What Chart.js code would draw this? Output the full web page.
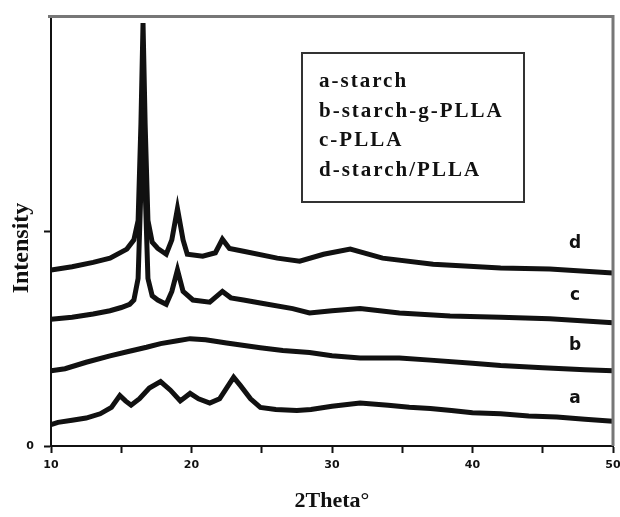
<!DOCTYPE html>
<html>
<head>
<meta charset="utf-8">
<script src="https://cdn.jsdelivr.net/npm/chart.js@4"></script>
<style>
  html, body { margin: 0; padding: 0; background: #fff; }
  #wrap { width: 620px; height: 517px; position: relative; }
</style>
</head>
<body>
<div id="wrap"><canvas id="c" width="620" height="517"></canvas></div>
<script>
// ---- data (2Theta in degrees, intensity in arbitrary units, curves offset) ----
const thetaA = [10.0, 10.5, 11.5, 12.5, 13.5, 14.3, 14.9, 15.3, 15.7, 16.3, 17.0, 17.8, 18.5, 19.2, 19.9, 20.5, 21.3, 22.0, 22.6, 23.0, 23.5, 24.2, 24.9, 26.0, 27.5, 28.5, 30.0, 32.0, 34.0, 35.5, 37.0, 38.5, 40.0, 42.0, 44.0, 46.0, 48.0, 50.0];
const intensityA = [0.10, 0.11, 0.12, 0.13, 0.15, 0.18, 0.235, 0.21, 0.19, 0.22, 0.27, 0.30, 0.26, 0.21, 0.245, 0.22, 0.20, 0.22, 0.28, 0.32, 0.28, 0.22, 0.18, 0.17, 0.165, 0.17, 0.185, 0.20, 0.19, 0.18, 0.175, 0.165, 0.155, 0.15, 0.14, 0.135, 0.125, 0.115];

const thetaB = [10.0, 11.0, 12.5, 14.2, 15.5, 16.8, 17.8, 19.0, 19.9, 21.0, 22.5, 24.9, 26.5, 28.4, 30.0, 32.0, 34.8, 37.0, 40.0, 42.0, 45.0, 48.0, 50.0];
const intensityB = [0.35, 0.36, 0.39, 0.42, 0.44, 0.46, 0.477, 0.49, 0.50, 0.495, 0.48, 0.458, 0.445, 0.435, 0.42, 0.41, 0.41, 0.40, 0.385, 0.375, 0.365, 0.355, 0.35];

const thetaC = [10.0, 11.5, 13.0, 14.2, 15.0, 15.6, 15.9, 16.2, 16.4, 16.55, 16.7, 16.9, 17.2, 17.6, 18.2, 18.6, 19.0, 19.4, 20.1, 21.3, 22.2, 22.8, 23.7, 25.0, 27.2, 28.4, 30.0, 32.0, 34.8, 38.4, 42.0, 45.5, 50.0];
const intensityC = [0.59, 0.60, 0.615, 0.63, 0.645, 0.66, 0.68, 0.78, 1.20, 1.57, 1.20, 0.78, 0.70, 0.68, 0.66, 0.72, 0.82, 0.72, 0.68, 0.67, 0.72, 0.69, 0.68, 0.665, 0.64, 0.62, 0.63, 0.64, 0.62, 0.606, 0.60, 0.593, 0.574];

const thetaD = [10.0, 11.5, 13.0, 14.2, 15.4, 15.9, 16.2, 16.4, 16.55, 16.7, 16.9, 17.2, 17.6, 18.2, 18.6, 19.0, 19.4, 19.7, 20.8, 21.7, 22.2, 22.7, 23.7, 26.1, 27.7, 29.4, 31.3, 33.6, 37.2, 42.0, 45.5, 50.0];
const intensityD = [0.82, 0.835, 0.855, 0.875, 0.917, 0.96, 1.05, 1.50, 1.97, 1.50, 1.05, 0.95, 0.92, 0.893, 0.96, 1.106, 0.96, 0.893, 0.884, 0.90, 0.963, 0.92, 0.907, 0.875, 0.861, 0.893, 0.917, 0.875, 0.847, 0.829, 0.824, 0.806];

const seriesNames = ['a', 'b', 'c', 'd'];
const seriesLabelTheta = 47.3;
const seriesLabelValue = [0.222, 0.468, 0.70, 0.944];
const legendLines = ['a-starch', 'b-starch-g-PLLA', 'c-PLLA', 'd-starch/PLLA'];
const xTickValues = [10, 20, 30, 40, 50];
const yTickLabels = ['0'];
const xTitle = '2Theta°';
const yTitle = 'Intensity';

function pts(xs, ys) { return xs.map((x, i) => ({ x: x, y: ys[i] })); }

const series = [
  pts(thetaA, intensityA),
  pts(thetaB, intensityB),
  pts(thetaC, intensityC),
  pts(thetaD, intensityD)
];

const annot = {
  id: 'annot',
  afterDraw(chart) {
    const ctx = chart.ctx;
    const area = chart.chartArea;
    const xs = chart.scales.x, ys = chart.scales.y;
    ctx.save();
    // gray top and right frame
    ctx.strokeStyle = '#777';
    ctx.lineWidth = 3;
    ctx.beginPath();
    ctx.moveTo(area.left - 3, area.top);
    ctx.lineTo(area.right, area.top);
    ctx.lineTo(area.right, area.bottom);
    ctx.stroke();

    // y axis title
    ctx.save();
    ctx.translate(22, 248);
    ctx.rotate(-Math.PI / 2);
    ctx.fillStyle = '#111';
    ctx.font = 'bold 24px "Liberation Serif"';
    ctx.textAlign = 'center';
    ctx.textBaseline = 'middle';
    ctx.fillText(yTitle, 0, 0);
    ctx.restore();

    // legend box
    ctx.strokeStyle = '#333';
    ctx.lineWidth = 2;
    ctx.strokeRect(302, 53, 222, 149);
    ctx.fillStyle = '#111';
    ctx.font = 'bold 21px "Liberation Serif"';
    ctx.textBaseline = 'middle';
    ctx.textAlign = 'left';
    try { ctx.letterSpacing = '2px'; } catch (e) {}
    legendLines.forEach((t, i) => ctx.fillText(t, 319, 82 + i * 29.5));
    try { ctx.letterSpacing = '0px'; } catch (e) {}

    // curve labels at the right end
    ctx.font = 'bold 17px "DejaVu Sans"';
    ctx.textAlign = 'center';
    const labelX = xs.getPixelForValue(seriesLabelTheta);
    seriesNames.forEach((n, i) => {
      ctx.fillText(n, labelX, ys.getPixelForValue(seriesLabelValue[i]));
    });
    ctx.restore();
  }
};

const ds = series.map((data, i) => ({
  label: seriesNames[i],
  data: data,
  borderColor: '#111',
  backgroundColor: '#111',
  borderWidth: 5,
  pointRadius: 0,
  tension: 0,
  fill: false
}));

new Chart(document.getElementById('c'), {
  type: 'line',
  data: { datasets: ds },
  options: {
    responsive: false,
    animation: false,
    layout: { padding: { top: 14, right: 7, left: 0, bottom: 0 } },
    plugins: { legend: { display: false }, tooltip: { enabled: false } },
    scales: {
      x: {
        type: 'linear',
        min: 10, max: 50,
        afterFit(scale) {
          scale.height = 71;
          scale.paddingLeft = 0;
          scale.paddingRight = 0;
        },
        afterBuildTicks(scale) {
          const t = [];
          for (let v = 10; v <= 50; v += 5) t.push({ value: v });
          scale.ticks = t;
        },
        ticks: {
          autoSkip: false,
          maxRotation: 0,
          padding: 6,
          color: '#111',
          font: { family: 'DejaVu Sans', weight: 'bold', size: 11 },
          callback: (v) => xTickValues.includes(v) ? String(v) : ''
        },
        grid: { drawOnChartArea: false, drawTicks: true, tickLength: 7, color: '#111', tickWidth: 2 },
        border: { display: true, color: '#111', width: 2 },
        title: {
          display: true,
          text: xTitle,
          color: '#111',
          font: { family: 'Liberation Serif', weight: 'bold', size: 22 },
          padding: { top: 0, bottom: 2 }
        }
      },
      y: {
        type: 'linear',
        min: 0, max: 2,
        afterFit(scale) { scale.width = 51; },
        afterBuildTicks(scale) { scale.ticks = [{ value: 0 }, { value: 1 }]; },
        ticks: {
          padding: 10,
          color: '#111',
          font: { family: 'DejaVu Sans', weight: 'bold', size: 11 },
          callback: (v) => v === 0 ? yTickLabels[0] : ''
        },
        grid: { drawOnChartArea: false, drawTicks: true, tickLength: 7, color: '#111', tickWidth: 2 },
        border: { display: true, color: '#111', width: 2 },
        title: { display: false, text: yTitle }
      }
    }
  },
  plugins: [annot]
});
</script>
</body>
</html>
